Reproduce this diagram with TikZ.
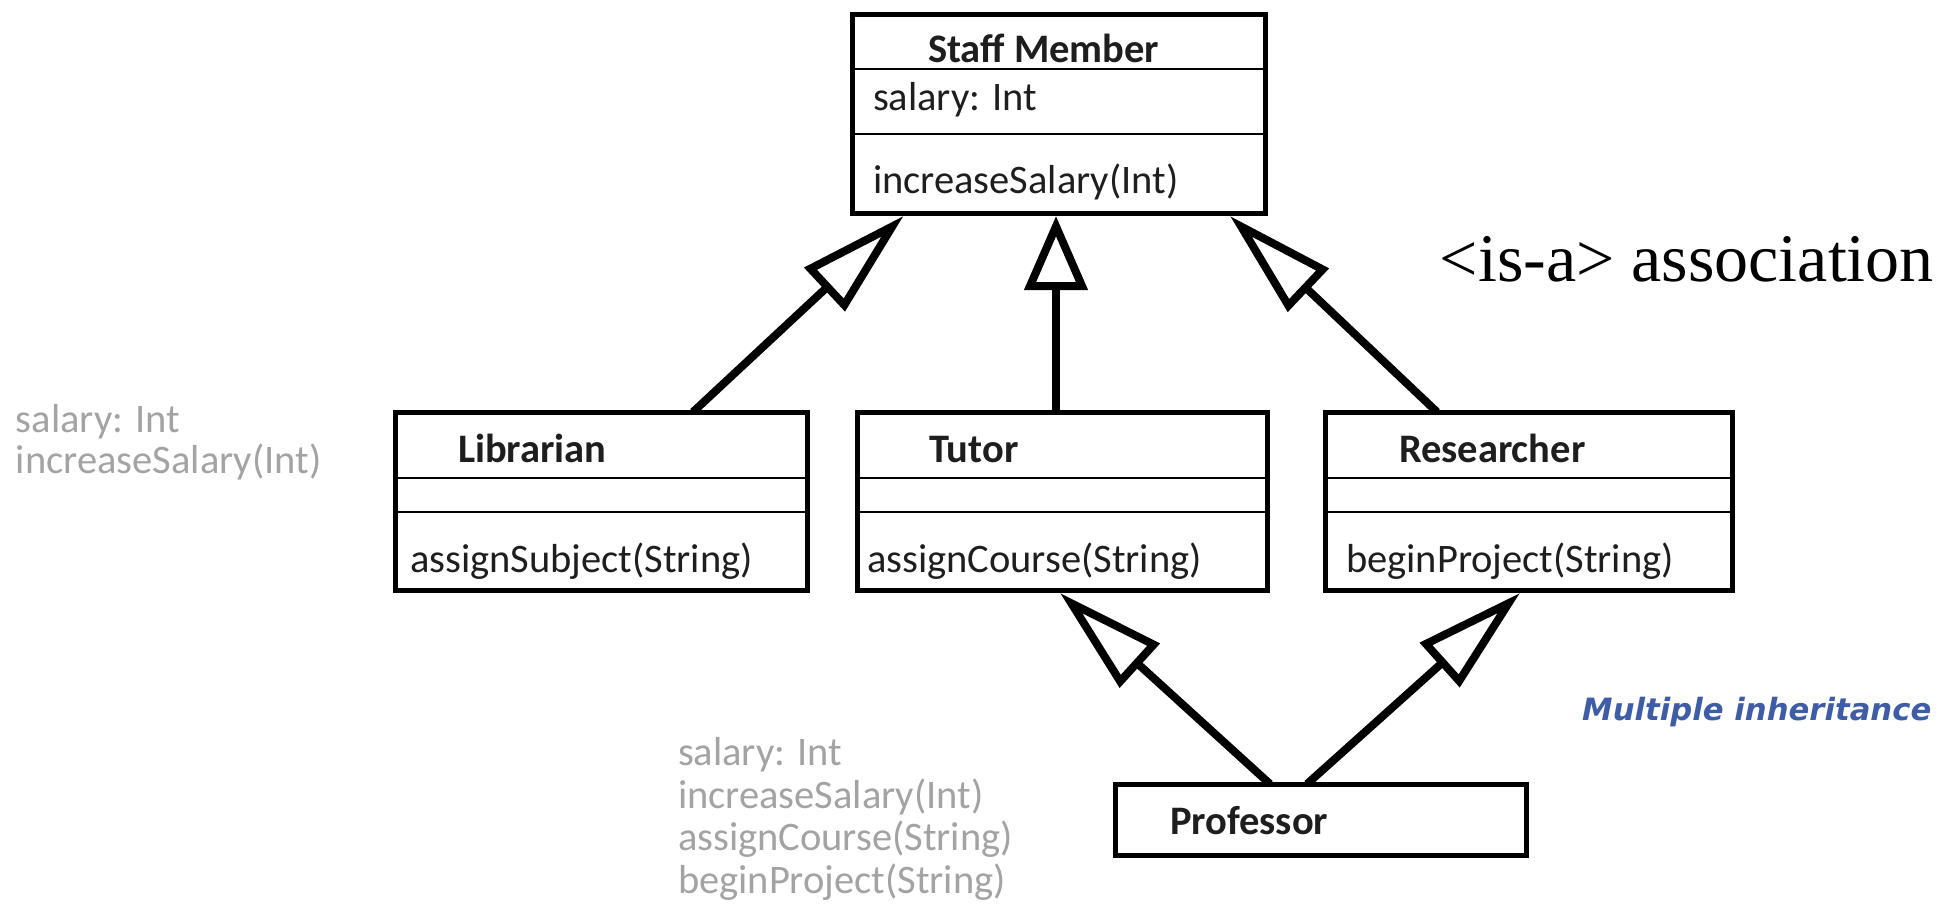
\documentclass[tikz,border=0pt]{standalone}
\usepackage{fontspec}
\usetikzlibrary{arrows.meta,calc}
\newfontfamily\umlfont{Carlito}
\newfontfamily\timesfont{Liberation Serif}
\newfontfamily\dvfont{DejaVu Sans}
\definecolor{inkc}{HTML}{1E1E1E}
\definecolor{grayc}{HTML}{A3A3A3}
\definecolor{bluec}{HTML}{3F5CA6}
\tikzset{
  classbox/.style={draw=black, line width=5pt, inner sep=0pt, outer sep=0pt, anchor=north west},
  divider/.style={draw=black, line width=2.5pt},
  txt/.style={anchor=base west, inner sep=0pt, outer sep=0pt, text=inkc, font=\umlfont\fontsize{40.5}{48}\selectfont},
  ttl/.style={txt, font=\umlfont\bfseries\fontsize{40.5}{48}\selectfont},
  gtxt/.style={txt, text=grayc},
  isa/.style={draw=black, line width=8pt, -{Triangle[open, length=108pt, width=58pt]}},
  isav/.style={draw=black, line width=8pt, -{Triangle[open, length=74pt, width=62pt]}},
}
\begin{document}
\begin{tikzpicture}[x=1pt, y=-1pt]
\useasboundingbox[fill=white] (0,0) rectangle (1953,905);
% class boxes
\node[classbox, minimum width=413pt, minimum height=199pt] (staff) at (852,14) {};
\node[classbox, minimum width=412pt, minimum height=178pt] (lib) at (395,412) {};
\node[classbox, minimum width=410pt, minimum height=178pt] (tutor) at (857,412) {};
\node[classbox, minimum width=407pt, minimum height=178pt] (res) at (1325,412) {};
\node[classbox, minimum width=411pt, minimum height=71pt] (prof) at (1115,784) {};
% compartment dividers
\draw[divider] (852,69) -- (1265,69);
\draw[divider] (852,134) -- (1265,134);
\foreach \l/\r in {395/807, 857/1267, 1325/1732}{
  \draw[divider] (\l,478) -- (\r,478);
  \draw[divider] (\l,512) -- (\r,512);
}
% texts
\node[ttl] (staffT) at (928,62) {Staff Member};
\node[txt] (staffA) at (873,110) {salary: Int};
\node[txt] (staffM) at (873,193) {increaseSalary(Int)};
\node[ttl] (libT) at (458,462) {Librarian};
\node[txt] (libM) at (410,572) {assignSubject(String)};
\node[ttl] (tutT) at (929,462) {Tutor};
\node[txt] (tutM) at (867,572) {assignCourse(String)};
\node[ttl] (resT) at (1399,462) {Researcher};
\node[txt] (resM) at (1346,572) {beginProject(String)};
\node[ttl] (profT) at (1170,834) {Professor};
% inherited members (grey)
\node[gtxt] (g1) at (16,432) {salary: Int};
\node[gtxt] (g2) at (16,473) {increaseSalary(Int)};
\node[gtxt] (g3) at (678,765) {salary: Int};
\node[gtxt] (g4) at (678,808) {increaseSalary(Int)};
\node[gtxt] (g5) at (678,850) {assignCourse(String)};
\node[gtxt] (g6) at (678,893) {beginProject(String)};
% annotations
\node[anchor=base east, inner sep=0pt, font=\timesfont\fontsize{68}{72}\selectfont] (isaT) at (1934,281) {<is-a> association};
\node[anchor=base west, inner sep=0pt, text=bluec, font=\dvfont\bfseries\itshape\fontsize{30.7}{36}\selectfont] (multi) at (1582,720) {Multiple inheritance};
% inheritance connectors
\draw[isa] ($(lib.north)+(92,0)$) -- ($(staff.south)+(-155,3)$);
\draw[isav] ($(tutor.north)+(-6,0)$) -- ($(staff.south)+(-2.5,3)$);
\draw[isa] ($(res.north)+(-91.5,0)$) -- ($(staff.south)+(171.5,3)$);
\draw[isa] ($(prof.north)+(-50.5,0)$) -- ($(tutor.south)+(-2,3)$);
\draw[isa] ($(prof.north)+(-13.5,0)$) -- ($(res.south)+(-8.5,3)$);
\end{tikzpicture}
\end{document}
